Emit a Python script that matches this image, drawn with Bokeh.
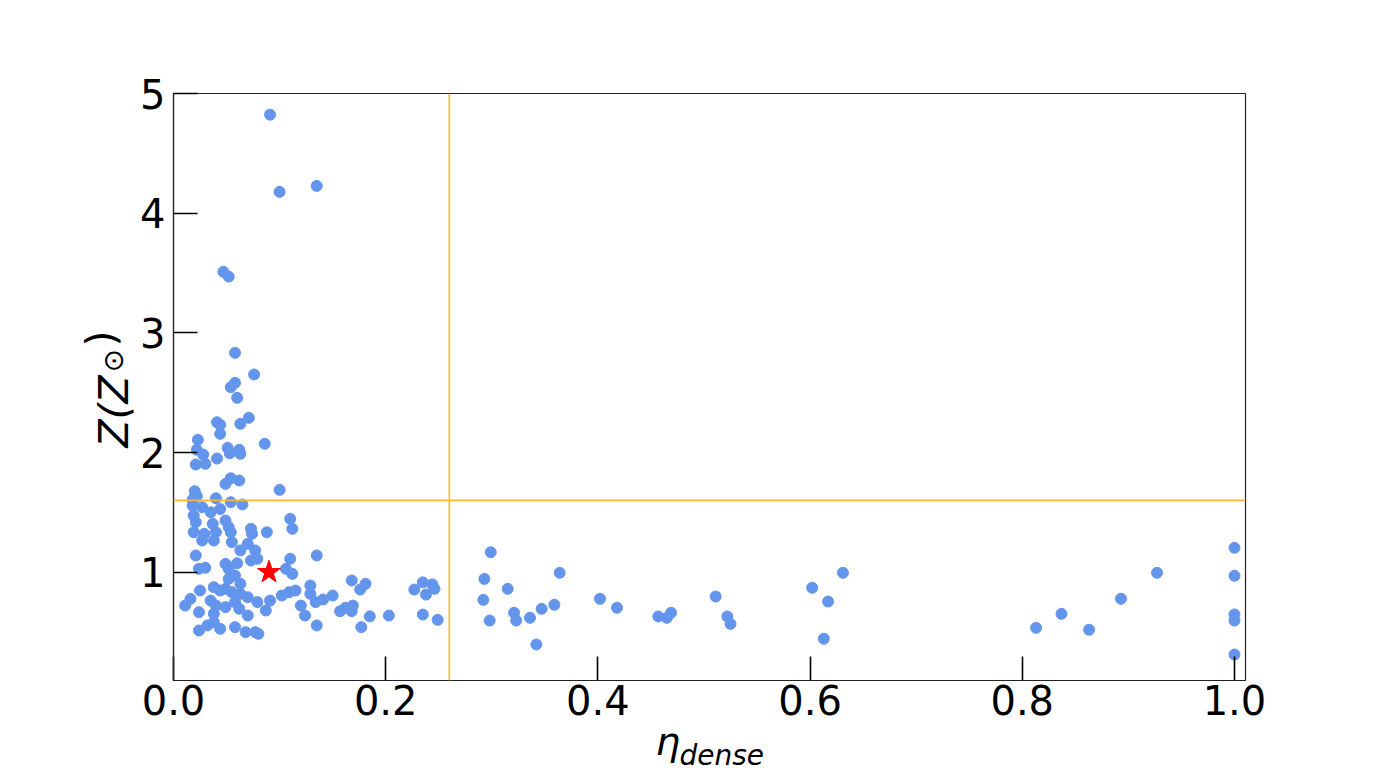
from bokeh.plotting import figure
from bokeh.models import Range1d, FixedTicker, NumeralTickFormatter, Span, Title
from bokeh.embed import file_html
from bokeh.resources import INLINE

# ---- data: eta_dense vs metallicity Z (Z_sun) ----
eta_dense = [
    # upper cluster
    0.091, 0.100, 0.135, 0.047, 0.052, 0.058, 0.076, 0.054, 0.058, 0.060,
    0.041, 0.044, 0.071, 0.063, 0.044, 0.086, 0.023, 0.022, 0.028, 0.021,
    0.030, 0.041, 0.051, 0.053, 0.062, 0.063, 0.054, 0.049, 0.062, 0.100,
    0.020, 0.022, 0.018, 0.040, 0.054, 0.065,
    # dense cluster
    0.018, 0.027, 0.035, 0.044, 0.019, 0.021, 0.037, 0.049, 0.052, 0.029,
    0.040, 0.019, 0.027, 0.038, 0.054, 0.055, 0.073, 0.074, 0.088, 0.110,
    0.112, 0.063, 0.070, 0.077, 0.079, 0.073, 0.021, 0.049, 0.060, 0.024,
    0.030, 0.052, 0.058, 0.063, 0.052, 0.110, 0.106, 0.112, 0.135, 0.025,
    0.038, 0.044, 0.049, 0.055, 0.063, 0.016, 0.011, 0.035, 0.040, 0.049,
    0.058, 0.070, 0.079, 0.091, 0.102, 0.109, 0.115, 0.129, 0.129, 0.134,
    0.120, 0.124, 0.024, 0.038, 0.062, 0.070, 0.087, 0.038, 0.032, 0.024,
    0.044, 0.058, 0.068, 0.077, 0.080, 0.135,
    # middle
    0.141, 0.150, 0.168, 0.176, 0.181, 0.157, 0.162, 0.169, 0.168, 0.185,
    0.177, 0.203, 0.227, 0.235, 0.244, 0.246, 0.238, 0.235, 0.249, 0.299,
    0.293, 0.292, 0.298,
    # right
    0.315, 0.321, 0.323, 0.336, 0.342, 0.347, 0.359, 0.364, 0.402, 0.418,
    0.457, 0.465, 0.469, 0.511, 0.522, 0.525, 0.602, 0.617, 0.613, 0.631,
    0.813, 0.837, 0.863, 0.893, 0.927, 1.0, 1.0, 1.0, 1.0, 1.0,
]
Z_value = [
    4.823, 4.178, 4.228, 3.510, 3.470, 2.833, 2.652, 2.546, 2.582, 2.457,
    2.253, 2.231, 2.290, 2.240, 2.156, 2.073, 2.106, 2.023, 1.983, 1.900,
    1.906, 1.950, 2.039, 1.994, 2.023, 1.989, 1.785, 1.738, 1.766, 1.688,
    1.677, 1.635, 1.607, 1.618, 1.585, 1.566,
    1.557, 1.543, 1.501, 1.528, 1.474, 1.418, 1.404, 1.432, 1.376, 1.321,
    1.334, 1.334, 1.265, 1.265, 1.334, 1.251, 1.363, 1.321, 1.334, 1.446,
    1.363, 1.182, 1.237, 1.182, 1.112, 1.098, 1.140, 1.070, 1.075, 1.028,
    1.037, 1.028, 0.972, 0.903, 0.944, 1.112, 1.028, 0.986, 1.140, 0.847,
    0.875, 0.847, 0.861, 0.833, 0.819, 0.777, 0.721, 0.763, 0.721, 0.708,
    0.750, 0.791, 0.750, 0.763, 0.805, 0.833, 0.847, 0.889, 0.819, 0.750,
    0.721, 0.638, 0.666, 0.652, 0.694, 0.638, 0.680, 0.582, 0.555, 0.513,
    0.527, 0.541, 0.499, 0.499, 0.485, 0.555,
    0.772, 0.805, 0.931, 0.855, 0.903, 0.674, 0.703, 0.721, 0.674, 0.631,
    0.541, 0.638, 0.855, 0.915, 0.898, 0.861, 0.813, 0.646, 0.602, 1.167,
    0.944, 0.769, 0.596,
    0.861, 0.661, 0.596, 0.619, 0.396, 0.694, 0.728, 0.995, 0.778, 0.703,
    0.630, 0.619, 0.661, 0.797, 0.630, 0.568, 0.870, 0.755, 0.444, 0.995,
    0.535, 0.652, 0.519, 0.778, 0.995, 1.204, 0.970, 0.647, 0.596, 0.312,
]
sun_eta = [0.09]
sun_Z = [1.0]
eta_cut = 0.26
Z_cut = 1.6
x_ticks = [0.0, 0.2, 0.4, 0.6, 0.8, 1.0]
y_ticks = [1, 2, 3, 4, 5]

p = figure(
    frame_width=1072, frame_height=587,
    min_border_left=173, min_border_right=129,
    min_border_top=93, min_border_bottom=89,
    x_range=Range1d(0.0, 1.0104), y_range=Range1d(0.095, 5.0),
    output_backend="svg", toolbar_location=None,
    background_fill_color="white", border_fill_color="white",
)
p.grid.visible = False
p.outline_line_color = "#222222"
p.outline_line_width = 1.2

for ax in (p.xaxis[0], p.yaxis[0]):
    ax.major_tick_in = 24
    ax.major_tick_out = 0
    ax.minor_tick_in = 0
    ax.minor_tick_out = 0
    ax.major_tick_line_width = 1.6
    ax.major_tick_line_color = "black"
    ax.axis_line_color = "#222222"
    ax.axis_line_width = 1.2
    ax.major_label_text_font = "DejaVu Sans"
    ax.major_label_text_font_size = "40px"
    ax.major_label_text_color = "black"

p.xaxis.ticker = FixedTicker(ticks=x_ticks)
p.xaxis.formatter = NumeralTickFormatter(format="0.0")
p.xaxis.major_label_standoff = 4
p.yaxis.ticker = FixedTicker(ticks=y_ticks)
p.yaxis.formatter = NumeralTickFormatter(format="0")
p.yaxis.major_label_standoff = 8

p.scatter(eta_dense, Z_value, size=11, color="#6495ED", line_color="#6495ED")
p.scatter(sun_eta, sun_Z, marker="star", size=24, fill_color="red", line_color="red")

p.add_layout(Span(location=eta_cut, dimension="height", line_color="#FFB733",
                  line_width=1.7))
p.add_layout(Span(location=Z_cut, dimension="width", line_color="#FFB733",
                  line_width=1.7))

# axis labels built from side-panel titles (mathtext-like pieces)
def ttl(text, side, offset, standoff, size, style="italic", valign="bottom"):
    p.add_layout(Title(text=text, align="left", offset=offset, standoff=standoff,
                       text_font="DejaVu Sans", text_font_size=size,
                       text_font_style=style, text_color="black",
                       vertical_align=valign), side)

# x label: η_dense
ttl("\u03b7", "below", 482, -2, "39px")
ttl("dense", "below", 506, -48, "28px", valign="top")
# y label: Z(Z_⊙)
ttl("Z(Z", "left", 233, 0, "41px")
ttl("\u2299", "left", 308, -84, "28px", style="normal")
ttl(")", "left", 334, -75, "41px", style="normal")

open("out.html", "w").write(file_html(p, INLINE))
